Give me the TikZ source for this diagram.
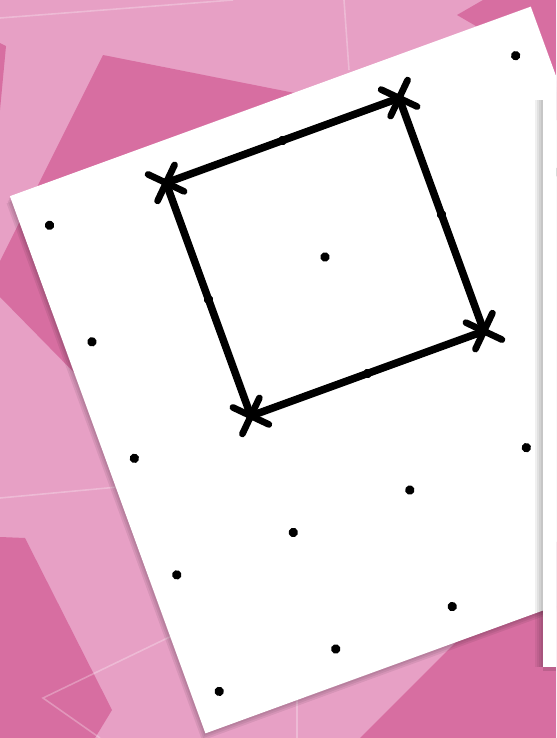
\documentclass[tikz,border=0pt]{standalone}
\usepackage{tikz}

\definecolor{rosaclaro}{RGB}{231,160,197}
\definecolor{rosaescuro}{RGB}{215,110,161}
\tikzset{
  traco/.style={white, opacity=0.28, line width=0.9pt},
  lado/.style={line width=4.3pt, line cap=round, line join=round},
  marca/.style={line width=3.8pt, line cap=round},
}

\begin{document}
\begin{tikzpicture}[x=0.02cm, y=-0.02cm]
  % moldura em pixels (y para baixo)
  \useasboundingbox (0,0) rectangle (556,738);
  \clip (0,0) rectangle (556,738);

  % fundo rosa com poligonos
  \fill[rosaclaro] (0,0) rectangle (556,738);
  \fill[rosaescuro] (103,55) -- (330,100) -- (150,450) -- (0,297) -- (0,261) -- cycle;
  \fill[rosaescuro] (0,43) -- (6,46) -- (0,110) -- cycle;
  \fill[rosaescuro] (457,15) -- (483,0) -- (556,0) -- (556,120) -- (500,40) -- cycle;
  \fill[rosaescuro] (0,537) -- (25,538) -- (112,710) -- (95,738) -- (0,738) -- cycle;
  \fill[rosaescuro] (360,738) -- (560,538) -- (556,738) -- cycle;
  % linhas claras do fundo
  \draw[traco] (0,18) -- (233,0);
  \draw[traco] (344,0) -- (349,70);
  \draw[traco] (0,498) -- (150,484);
  \draw[traco] (180,632) -- (43,698) -- (100,738);
  \draw[traco] (297,690) -- (297,738);

  % folha pontilhada girada; O = ponto central da malha
  \def\ang{20}
  \coordinate (O) at (325,257);
  \begin{scope}[shift={(O)}, rotate=\ang, scale=124]
    % sombra da folha
    \foreach \s in {0.045,0.03,0.015}
      \fill[black, opacity=0.07, shift={(-\s,\s)}]
        (-2.22,-1.33) -- (2.25,-1.33) -- (2.25,3.28) -- (-2.22,3.28) -- cycle;
    \fill[white] (-2.22,-1.33) -- (2.25,-1.33) -- (2.25,3.28) -- (-2.22,3.28) -- cycle;
    % pontos da malha
    \foreach \a in {-2,...,2}
      \foreach \b in {-1,...,3}
        \fill (\a,\b) circle (0.038);
    % vertices do quadrado
    \coordinate (A) at (-1,-1);
    \coordinate (B) at (1,-1);
    \coordinate (C) at (1,1);
    \coordinate (D) at (-1,1);
  \end{scope}

  % quadrado e marcas nos vertices
  \draw[lado] (A) -- (B) -- (C) -- (D) -- cycle;
  \foreach \v in {A,B,C,D} {
    \draw[marca] (\v) ++(-18,-8.5) -- ++(36,17);
    \draw[marca] (\v) ++(-8.5,18) -- ++(17,-36);
  }

  % segunda folha (por cima, a direita)
  \foreach \i in {1,...,4}
    \fill[black, opacity=0.06] (543-2*\i,100) rectangle (543,667);
  \fill[black, opacity=0.12] (543,667) rectangle (556,671);
  \fill[white] (543,100) rectangle (556,667);
\end{tikzpicture}
\end{document}
